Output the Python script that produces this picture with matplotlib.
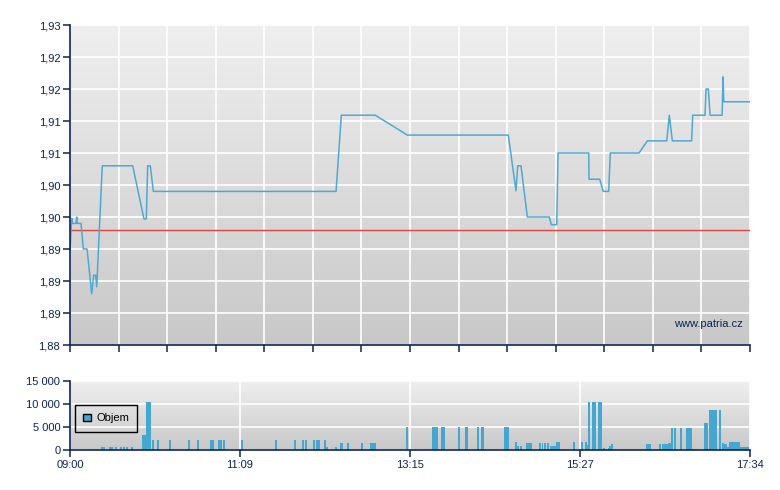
import matplotlib
matplotlib.use('Agg')
import matplotlib.pyplot as plt
import numpy as np
from matplotlib.colors import LinearSegmentedColormap
from matplotlib.patches import Patch

# ---- data (minutes after 09:00) ----
price_t = [0, 1.3, 1.7, 4.5, 5.1, 5.5, 8.3, 10.1, 12.9, 16.4, 17.9, 19.4, 20.2,
           24.4, 47.4, 55.9, 57.7, 58.7, 60.7, 63.0, 201.1, 205.1, 230.8, 255.0,
           331.3, 337.1, 338.4, 340.9, 345.7, 362.3, 363.8, 367.9, 368.9, 392.1,
           392.3, 400.4, 403.1, 407.2, 408.4, 430.1, 436.4, 451.1, 453.0, 455.3,
           469.9, 470.7, 480.0, 480.8, 482.5, 483.8, 492.9, 493.6, 494.2, 514]
price_v = [1.8948, 1.8998, 1.8990, 1.8990, 1.9000, 1.8990, 1.8990, 1.8950, 1.8950,
           1.8880, 1.8909, 1.8909, 1.8891, 1.9080, 1.9080, 1.8997, 1.8997, 1.9080,
           1.9080, 1.9040, 1.9040, 1.9159, 1.9159, 1.9128, 1.9128, 1.9041, 1.9080,
           1.9080, 1.9000, 1.9000, 1.8988, 1.8988, 1.9100, 1.9100, 1.9059, 1.9059,
           1.9040, 1.9040, 1.9100, 1.9100, 1.9119, 1.9119, 1.9159, 1.9119, 1.9119,
           1.9159, 1.9159, 1.9200, 1.9200, 1.9159, 1.9159, 1.9219, 1.9180, 1.9180]
ref_price = 1.8980

vol_t = [23.4, 24.9, 29.5, 31.0, 34.0, 37.6, 40.3, 42.3, 45.9, 54.4, 55.9,
         57.4, 58.6, 59.7, 62.0, 65.8, 74.8, 89.2, 96.0, 105.8, 107.3, 111.9,
         113.4, 116.0, 129.3, 155.0, 169.3, 175.4, 177.6, 183.7, 186.0, 187.5,
         192.0, 193.5, 200.3, 204.1, 205.2, 209.4, 220.0, 226.8, 228.3, 229.8,
         254.0, 273.6, 275.1, 276.3, 280.4, 281.6, 293.3, 298.6, 299.7, 307.7,
         310.7, 311.8, 328.1, 329.6, 330.7, 336.4, 337.9, 340.2, 344.7, 346.2,
         347.7, 354.5, 356.4, 358.3, 360.6, 362.8, 364.0, 365.9, 367.4, 368.5,
         380.2, 386.3, 389.3, 390.8, 391.6, 394.6, 396.1, 399.1, 400.3, 402.9,
         406.7, 407.4, 409.0, 435.4, 436.9, 438.0, 445.2, 447.5, 449.0, 450.2,
         452.0, 453.2, 454.3, 456.6, 461.2, 465.7, 467.2, 468.7, 470.2, 472.4,
         479.3, 480.4, 481.5, 483.0, 484.5, 486.0, 487.5, 490.6, 492.1, 492.9,
         494.4, 495.2, 496.6, 498.2, 499.7, 501.2, 502.7, 504.2, 504.9, 505.7,
         507.3, 508.8, 510.3, 511.8]
vol_v = [700, 700, 700, 700, 700, 700, 700, 700, 700, 3300, 3300,
         10500, 10500, 10500, 2100, 2100, 2100, 2100, 2100, 2100, 2100, 2100,
         2100, 2100, 2100, 2100, 2100, 2100, 2100, 2100, 2100, 2100,
         2100, 700, 700, 1500, 1500, 1500, 1500, 1500, 1500, 1500,
         4900, 4900, 4900, 4900, 4900, 4900, 4900, 4900, 4900, 4900,
         4900, 4900, 4900, 4900, 4900, 1700, 860, 860, 1500, 1500,
         1500, 1500, 1500, 1500, 1500, 860, 860, 860, 1700, 1700,
         1700, 1700, 1700, 1000, 10500, 10500, 10500, 10500, 10500, 430,
         430, 860, 1290, 1290, 1290, 1290, 1290, 1290, 1290, 1290,
         1500, 1500, 4700, 4700, 4700, 4700, 4700, 4700, 200, 200,
         5800, 5800, 200, 8600, 8600, 8600, 8600, 8600, 200, 1500,
         1290, 1290, 700, 1700, 1700, 1700, 1700, 1700, 1700, 640,
         640, 640, 640, 640]

price_ticks = [1.880, 1.885, 1.890, 1.895, 1.900, 1.905, 1.910, 1.915, 1.920, 1.925, 1.930]
price_tick_labels = ['1,88', '1,89', '1,89', '1,89', '1,90', '1,90', '1,91', '1,91',
                     '1,92', '1,92', '1,93']
vol_ticks = [0, 5000, 10000, 15000]
vol_tick_labels = ['0', '5 000', '10 000', '15 000']
time_ticks = [0, 128.5, 257, 385.5, 514]
time_tick_labels = ['09:00', '11:09', '13:15', '15:27', '17:34']
t_end = 514

navy = '#0b2456'
line_col = '#4ea9d2'
bar_col = '#45a6cf'
plt.rcParams['font.family'] = ['Liberation Sans', 'DejaVu Sans']

fig = plt.figure(figsize=(7.8, 4.9), dpi=100)
cmap = LinearSegmentedColormap.from_list('bg', ['#c8c8c8', '#efefef'])


def style(ax):
    ax.imshow(np.linspace(0, 1, 256).reshape(-1, 1), cmap=cmap, origin='lower',
              extent=[0, 1, 0, 1], transform=ax.transAxes, aspect='auto', zorder=0)
    for s in ['top', 'right']:
        ax.spines[s].set_visible(False)
    for s in ['left', 'bottom']:
        ax.spines[s].set_color(navy)
        ax.spines[s].set_linewidth(1.2)
        ax.spines[s].set_zorder(5)
    ax.tick_params(colors=navy, labelcolor=navy, labelsize=8, length=5, width=1.1,
                   direction='out', pad=2)


# price panel
ax = fig.add_axes([70/780, 1-345/490, 680/780, 320/490])
style(ax)
ax.plot(price_t, price_v, color=line_col, lw=1.1, zorder=3)
ax.axhline(ref_price, color='#e2443f', lw=1.0, zorder=2)
ax.set_xlim(0, t_end)
ax.set_ylim(1.88, 1.93)
ax.set_yticks(price_ticks)
ax.set_yticklabels(price_tick_labels)
ax.set_xticks(np.linspace(0, t_end, 15))
ax.set_xticklabels([])
ax.grid(True, color='white', lw=1.2, zorder=1)
ax.text(0.99, 0.065, 'www.patria.cz', transform=ax.transAxes, ha='right', va='center',
        color=navy, fontsize=8, zorder=4)

# volume panel
axv = fig.add_axes([70/780, 1-450/490, 680/780, 69/490])
style(axv)
axv.bar(vol_t, vol_v, width=1.51, align='edge', color=bar_col, lw=0, zorder=3)
axv.set_xlim(0, t_end)
axv.set_ylim(0, 15000)
axv.set_yticks(vol_ticks)
axv.set_yticklabels(vol_tick_labels)
axv.set_xticks(time_ticks)
axv.set_xticklabels(time_tick_labels)
axv.grid(True, color='white', lw=1.2, zorder=1)
leg = axv.legend(handles=[Patch(facecolor=bar_col, edgecolor='black', lw=1.0, label='Objem')],
                 loc='upper left', bbox_to_anchor=(5/680, 45/69), frameon=True, fancybox=False,
                 framealpha=1, facecolor='none', edgecolor='black', fontsize=8,
                 handlelength=0.7, handleheight=0.7, handletextpad=0.45,
                 borderpad=0.75, borderaxespad=0)
leg.get_frame().set_linewidth(1.0)
for t in leg.get_texts():
    t.set_color('black')

fig.savefig('out.png', dpi=100)
